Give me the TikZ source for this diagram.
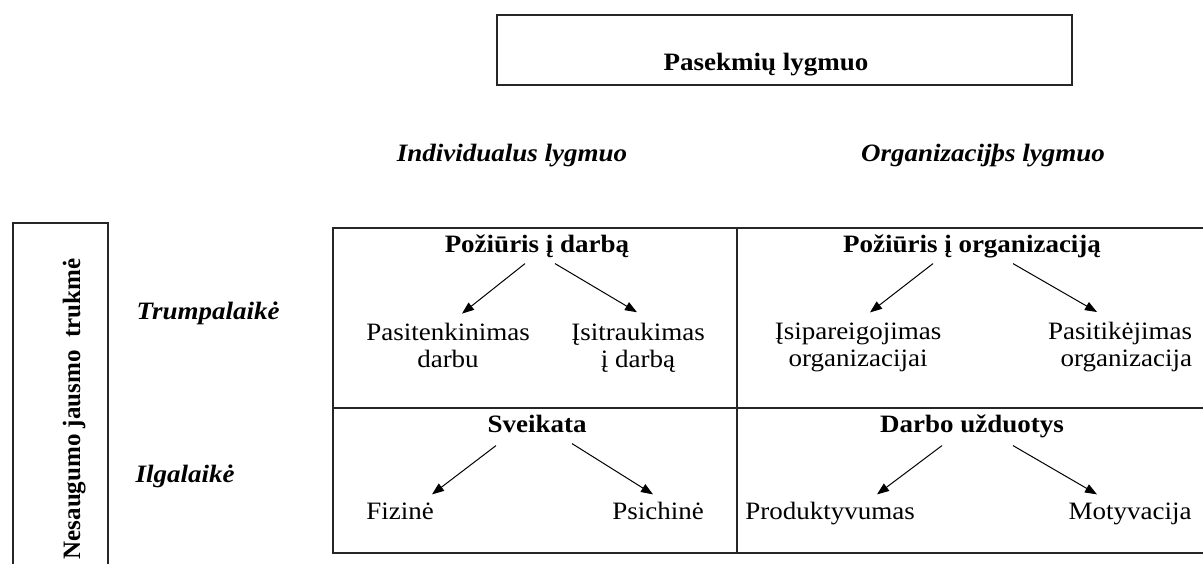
\documentclass[tikz,border=0pt]{standalone}
\usepackage{fontspec}
\setmainfont{Liberation Serif}[FakeStretch=1.08]
\newfontfamily\vertfont{Liberation Serif}
\usetikzlibrary{arrows.meta}
\tikzset{
  every path/.style={
    black!85,
    line width=1.2pt
  },
  every node/.style={
    inner sep=2pt,
    text=black,
    font=\fontsize{25}{27}\selectfont
  },
  head/.style={font=\fontsize{25}{27}\selectfont\bfseries, text height=17pt, text depth=5pt, anchor=base},
  lvl/.style={font=\fontsize{25}{27}\selectfont\bfseries\itshape, anchor=base},
  leaf/.style={text height=17pt, text depth=5pt, anchor=base},
  twoline/.style={align=center},
  arr/.style={-{Triangle[length=12pt,width=9pt]}, black, line width=1pt}
}

\begin{document}
\begin{tikzpicture}[x=1pt, y=1pt]
    \useasboundingbox (0,0) rectangle (1203,563);

    % 枠
    \node[draw, minimum width=575pt, minimum height=70pt] (pbox) at (784.5,513) {};
    \draw (13,-5) rectangle (108,340);
    \draw (333,10) rectangle (1206,335);
    \draw (333,155) -- (1206,155);
    \draw (737,10) -- (737,335);

    % 見出し
    \node[head] (pas) at (766,492) {Pasekmių lygmuo};
    \node[lvl] (ind) at (512,401) {Individualus lygmuo};
    \node[lvl] (org) at (983,401) {Organizacijþs lygmuo};
    \node[lvl, anchor=base west] (trm) at (134,243) {Trumpalaikė};
    \node[lvl, anchor=base west] (ilg) at (133,81) {Ilgalaikė};
    \node[font=\fontsize{25}{27}\vertfont\bfseries, rotate=90, anchor=base] (nes) at (80,154)
        {Nesaugumo jausmo \ trukmė};

    % 上段
    \node[head] (pd) at (537,310) {Požiūris į darbą};
    \node[twoline] (pt) at (448,217.5) {Pasitenkinimas\\darbu};
    \node[twoline] (it) at (638,215.5) {Įsitraukimas\\į darbą};
    \node[head] (po) at (972,310) {Požiūris į organizaciją};
    \node[twoline] (ip) at (858,215.5) {Įsipareigojimas\\organizacijai};
    \node[twoline, align=right] (pk) at (1120,215.5) {Pasitikėjimas\\organizacija};

    % 下段
    \node[head] (sv) at (537,131) {Sveikata};
    \node[leaf] (fz) at (400,44) {Fizinė};
    \node[leaf] (ps) at (658,44) {Psichinė};
    \node[head] (du) at (972,131) {Darbo užduotys};
    \node[leaf] (pr) at (830,44) {Produktyvumas};
    \node[leaf] (mo) at (1130,44) {Motyvacija};

    % 矢印
    \draw[arr] ([shift={(-12,-3)}]pd.south) -- ([shift={(14,7)}]pt.north);
    \draw[arr] ([shift={(18,-3)}]pd.south) -- ([shift={(-1,8)}]it.north);
    \draw[arr] ([shift={(-39,-3)}]po.south) -- ([shift={(12,8)}]ip.north);
    \draw[arr] ([shift={(41,-3)}]po.south) -- ([shift={(-23,8)}]pk.north);
    \draw[arr] ([shift={(-41,-6)}]sv.south) -- ([shift={(32,5)}]fz.north);
    \draw[arr] ([shift={(35,-4)}]sv.south) -- ([shift={(-5,5)}]ps.north);
    \draw[arr] ([shift={(-30,-6)}]du.south) -- ([shift={(47,5)}]pr.north);
    \draw[arr] ([shift={(41,-6)}]du.south) -- ([shift={(-33,5)}]mo.north);
\end{tikzpicture}
\end{document}
